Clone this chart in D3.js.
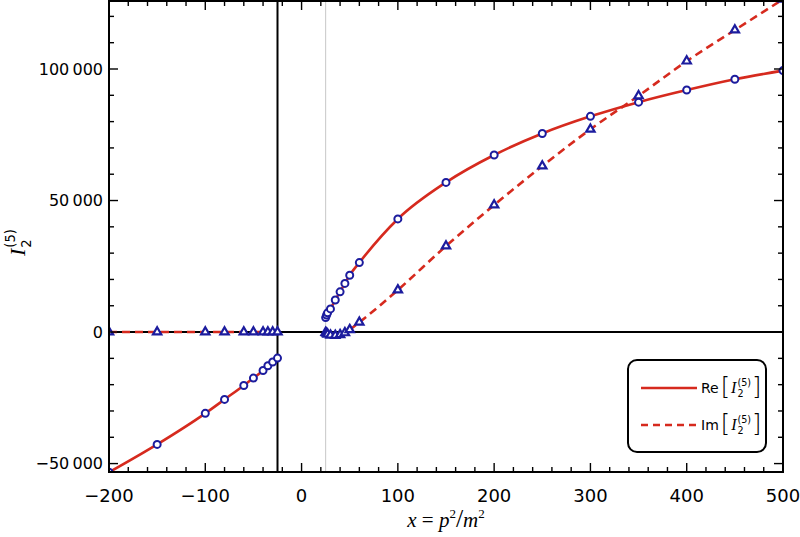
<!DOCTYPE html>
<html><head><meta charset="utf-8">
<script src="https://cdn.jsdelivr.net/npm/d3@7"></script>
<style>
html,body{margin:0;padding:0;background:#fff;}
svg{display:block;}
</style></head>
<body>
<script>
// ---- data ----
const leftX = [-200, -150, -100, -80, -60, -50, -40, -35, -30, -25];
const reLeft = [-53300, -42700, -30900, -25600, -20300, -17500, -14600, -12800, -11400, -9900];
const imLeft = [0, 0, 0, 0, 0, 0, 0, 0, 0, 0];
const rightX = [25, 26, 27, 30, 35, 40, 45, 50, 60, 100, 150, 200, 250, 300, 350, 400, 450, 500];
const reRight = [5500, 6500, 7300, 8800, 12200, 15300, 18500, 21600, 26400, 43000, 56900, 67300, 75500, 82000, 87400, 92000, 96100, 99400];
const imRight = [-200, -500, -800, -1200, -1300, -1000, -300, 900, 3700, 16000, 32700, 48300, 63100, 77100, 89800, 103000, 114800, 126500];
const xTicks = [-200, -100, 0, 100, 200, 300, 400, 500];
const yTicks = [-50000, 0, 50000, 100000];
const xTickLabels = ["\u2212200", "\u2212100", "0", "100", "200", "300", "400", "500"];
const yTickLabels = ["\u221250\u2009000", "0", "50\u2009000", "100\u2009000"];
const legendLabels = ["Re", "Im"];
const thresholdLines = [-25, 25];

const W = 800, H = 537;
const L = 109, R = 783, T = 1, B = 472;
const RED = "#d62a1e", BLUE = "#1c1c9e";

const svg = d3.select("body").append("svg").attr("width", W).attr("height", H);
const x = d3.scaleLinear().domain([-200, 500]).range([L, R]);
const y = d3.scaleLinear().domain([-53200, 125850]).range([B, T]);

svg.append("defs").append("clipPath").attr("id", "clip")
  .append("rect").attr("x", L).attr("y", T).attr("width", R - L).attr("height", B - T);

const plot = svg.append("g").attr("clip-path", "url(#clip)");

// reference lines
plot.append("line").attr("x1", x(thresholdLines[1])).attr("x2", x(thresholdLines[1]))
  .attr("y1", T).attr("y2", B).attr("stroke", "#c8c8c8").attr("stroke-width", 1);
plot.append("line").attr("x1", L).attr("x2", R).attr("y1", y(0)).attr("y2", y(0))
  .attr("stroke", "#000").attr("stroke-width", 2);
plot.append("line").attr("x1", x(thresholdLines[0])).attr("x2", x(thresholdLines[0]))
  .attr("y1", T).attr("y2", B).attr("stroke", "#000").attr("stroke-width", 2);

// curves
const line = d3.line().x(d => x(d[0])).y(d => y(d[1])).curve(d3.curveMonotoneX);
const zip = (a, b) => a.map((v, i) => [v, b[i]]);
plot.append("path").datum(zip(leftX, reLeft)).attr("d", line)
  .attr("fill", "none").attr("stroke", RED).attr("stroke-width", 2.6);
plot.append("path").datum(zip(rightX, reRight)).attr("d", line)
  .attr("fill", "none").attr("stroke", RED).attr("stroke-width", 2.6);
plot.append("path").datum(zip(leftX, imLeft)).attr("d", line)
  .attr("fill", "none").attr("stroke", RED).attr("stroke-width", 2.6).attr("stroke-dasharray", "8,5");
plot.append("path").datum(zip(rightX, imRight)).attr("d", line)
  .attr("fill", "none").attr("stroke", RED).attr("stroke-width", 2.6).attr("stroke-dasharray", "8,5");

// markers
const allX = leftX.concat(rightX);
const allRe = reLeft.concat(reRight);
const allIm = imLeft.concat(imRight);
plot.selectAll("circle.re").data(zip(allX, allRe)).enter().append("circle")
  .attr("cx", d => x(d[0])).attr("cy", d => y(d[1])).attr("r", 3.5)
  .attr("fill", "#fff").attr("stroke", BLUE).attr("stroke-width", 2);
const tri = d3.symbol().type(d3.symbolTriangle).size(30);
plot.selectAll("path.im").data(zip(allX, allIm)).enter().append("path")
  .attr("d", tri).attr("transform", d => `translate(${x(d[0])},${y(d[1])})`)
  .attr("fill", "#fff").attr("stroke", BLUE).attr("stroke-width", 2.2);

// frame
svg.append("rect").attr("x", L).attr("y", T).attr("width", R - L).attr("height", B - T)
  .attr("fill", "none").attr("stroke", "#000").attr("stroke-width", 2);

// ticks (all four sides, inward)
const xMinor = d3.range(-200, 501, 20).filter(v => !xTicks.includes(v));
const yMinor = d3.range(-50000, 125001, 10000).filter(v => !yTicks.includes(v));
const tk = svg.append("g").attr("stroke", "#000").attr("stroke-width", 1.4);
function xt(vals, len) {
  vals.forEach(v => {
    tk.append("line").attr("x1", x(v)).attr("x2", x(v)).attr("y1", B).attr("y2", B - len);
    tk.append("line").attr("x1", x(v)).attr("x2", x(v)).attr("y1", T).attr("y2", T + len);
  });
}
function yt(vals, len) {
  vals.forEach(v => {
    tk.append("line").attr("y1", y(v)).attr("y2", y(v)).attr("x1", L).attr("x2", L + len);
    tk.append("line").attr("y1", y(v)).attr("y2", y(v)).attr("x1", R).attr("x2", R - len);
  });
}
xt(xTicks, 9); xt(xMinor, 5); yt(yTicks, 9); yt(yMinor, 5);

// tick labels
svg.append("g").selectAll("text").data(xTicks).enter().append("text")
  .attr("x", d => x(d)).attr("y", 502).attr("text-anchor", "middle")
  .attr("font-family", "DejaVu Sans").attr("font-size", 18).attr("fill", "#000")
  .text((d, i) => xTickLabels[i]);
svg.append("g").selectAll("text").data(yTicks).enter().append("text")
  .attr("x", 103).attr("y", d => y(d)).attr("dy", "0.36em").attr("text-anchor", "end")
  .attr("font-family", "DejaVu Sans").attr("font-size", 16).attr("fill", "#000")
  .text((d, i) => yTickLabels[i]);

// I_2^(5) helper
function drawI(g, x0, y0, fs) {
  const t = g.append("text").attr("x", x0).attr("y", y0)
    .attr("font-family", "Liberation Serif").attr("font-style", "italic")
    .attr("font-size", fs).text("I");
  const w = t.node().getComputedTextLength() + 1;
  const s1 = g.append("text").attr("x", x0 + w).attr("y", y0 - fs * 0.45)
    .attr("font-family", "DejaVu Sans").attr("font-size", fs * 0.6).text("(5)");
  g.append("text").attr("x", x0 + w).attr("y", y0 + fs * 0.25)
    .attr("font-family", "DejaVu Sans").attr("font-size", fs * 0.6).text("2");
  return w + s1.node().getComputedTextLength();
}

// y-axis label
const yl = svg.append("g").attr("transform", "translate(25,256) rotate(-90)");
drawI(yl, 0, 0, 22);

// x-axis label
const xl = svg.append("text").attr("x", 446).attr("y", 527).attr("text-anchor", "middle")
  .attr("font-family", "Liberation Serif").attr("font-size", 21);
xl.append("tspan").attr("font-style", "italic").text("x");
xl.append("tspan").text(" = ");
xl.append("tspan").attr("font-style", "italic").text("p");
xl.append("tspan").attr("font-size", 13).attr("dy", -9).text("2");
xl.append("tspan").attr("dy", 9).attr("font-size", 26).text("/");
xl.append("tspan").attr("font-style", "italic").text("m");
xl.append("tspan").attr("font-size", 13).attr("dy", -9).text("2");

// legend
const lg = svg.append("g");
lg.append("rect").attr("x", 628).attr("y", 360).attr("width", 138).attr("height", 92)
  .attr("rx", 9).attr("fill", "#fff").attr("stroke", "#000").attr("stroke-width", 2);
[388, 425].forEach((ly, i) => {
  lg.append("line").attr("x1", 641).attr("x2", 697).attr("y1", ly).attr("y2", ly)
    .attr("stroke", RED).attr("stroke-width", 2.6)
    .attr("stroke-dasharray", i === 1 ? "7,5" : null);
  const t = lg.append("text").attr("x", 701).attr("y", ly + 5)
    .attr("font-family", "DejaVu Sans").attr("font-size", 14).text(legendLabels[i]);
  let cx = 701 + t.node().getComputedTextLength() + 2;
  const b1 = lg.append("text").attr("x", cx).attr("y", ly + 7)
    .attr("font-family", "DejaVu Sans").attr("font-weight", 200).attr("font-size", 24).text("[");
  cx += b1.node().getComputedTextLength() + 1;
  cx += drawI(lg, cx, ly + 5, 16) + 1;
  lg.append("text").attr("x", cx).attr("y", ly + 7)
    .attr("font-family", "DejaVu Sans").attr("font-weight", 200).attr("font-size", 24).text("]");
});
</script>
</body></html>
